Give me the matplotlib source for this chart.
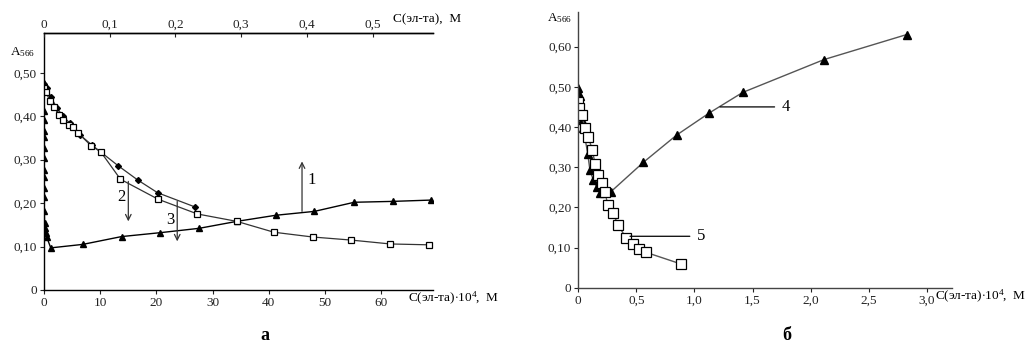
import matplotlib.pyplot as plt
from matplotlib.ticker import FixedLocator, FuncFormatter

plt.rcParams['font.family'] = ['Liberation Serif', 'DejaVu Serif']
plt.rcParams['mathtext.fontset'] = 'custom'
plt.rcParams['mathtext.rm'] = 'Liberation Serif'
plt.rcParams['mathtext.it'] = 'Liberation Serif:italic'

# panel a: series 1 (triangles)
s1_x = [0, 0, 0, 0, 0, 0, 0, 0, 0, 0, 0, 0, 0.05, 0.1, 0.2, 0.3, 0.45,
        1.2, 6.9, 13.8, 20.7, 27.6, 34.3, 41.2, 48.1, 55.2, 62.0, 68.8]
s1_y = [0.476, 0.47, 0.411, 0.392, 0.365, 0.353, 0.326, 0.303, 0.276, 0.261, 0.234, 0.215,
        0.181, 0.154, 0.142, 0.131, 0.123,
        0.097, 0.105, 0.123, 0.132, 0.142, 0.158, 0.172, 0.181, 0.202, 0.204, 0.207]

# panel a: series 2 (diamonds)
s2_x = [0, 0.5, 1.2, 2.3, 3.4, 4.6, 6.4, 8.5, 13.2, 16.7, 20.2, 26.9]
s2_y = [0.475, 0.465, 0.445, 0.419, 0.40, 0.384, 0.357, 0.334, 0.286, 0.253, 0.224, 0.191]

# panel a: series 3 (open squares)
s3_x = [0, 0.4, 1.07, 1.8, 2.7, 3.4, 4.5, 5.2, 6.1, 8.4, 10.1, 13.6, 20.3, 27.3,
        34.3, 40.9, 47.8, 54.6, 61.6, 68.5]
s3_y = [0.465, 0.455, 0.434, 0.421, 0.403, 0.392, 0.380, 0.375, 0.361, 0.332, 0.318,
        0.255, 0.209, 0.175, 0.158, 0.133, 0.122, 0.115, 0.106, 0.104]

# panel b: series 4 (triangles)
s4_x = [0, 0.0, 0.015, 0.029, 0.043, 0.081, 0.1, 0.129, 0.158, 0.187, 0.281,
        0.56, 0.847, 1.128, 1.415, 2.117, 2.826]
s4_y = [0.496, 0.484, 0.476, 0.417, 0.397, 0.334, 0.293, 0.268, 0.251, 0.235, 0.239,
        0.312, 0.380, 0.435, 0.486, 0.568, 0.630]

# panel b: series 5 (open squares)
s5_x = [0.0, 0.006, 0.029, 0.058, 0.086, 0.12, 0.144, 0.172, 0.207, 0.23, 0.253,
        0.296, 0.344, 0.41, 0.468, 0.522, 0.583, 0.884]
s5_y = [0.463, 0.448, 0.43, 0.397, 0.376, 0.343, 0.309, 0.280, 0.26, 0.237, 0.207,
        0.187, 0.156, 0.124, 0.108, 0.096, 0.088, 0.059]

W, H = 1033, 345
fig = plt.figure(figsize=(W / 100, H / 100), dpi=100)


def rect(x0, y0, x1, y1):
    return [x0 / W, 1 - y1 / H, (x1 - x0) / W, (y1 - y0) / H]


def comma_fmt(nd):
    return FuncFormatter(lambda v, p: '0' if abs(v) < 1e-9 else ('%.*f' % (nd, v)).replace('.', ','))


tick_kw = dict(direction='out', length=3, width=0.8, labelsize=9.5, colors='#222222', pad=2)

# ---------- panel a ----------
ax = fig.add_axes(rect(44, 33.3, 433, 290))
ax.plot(s1_x, s1_y, color='black', lw=1.0, marker='^', ms=5, mfc='black', mec='black')
ax.plot(s2_x, s2_y, color='#333333', lw=0.9, marker='D', ms=3, mfc='black', mec='black')
ax.plot(s3_x, s3_y, color='#333333', lw=0.9, marker='s', ms=4.8, mfc='white',
        mec='black', mew=0.9)
ax.set_xlim(0, 69.2)
ax.set_ylim(0, 0.591)
ax.spines['right'].set_visible(False)
for s in ['left', 'bottom', 'top']:
    ax.spines[s].set_linewidth(1.0)
ax.xaxis.set_major_locator(FixedLocator([0, 10, 20, 30, 40, 50, 60]))
ax.yaxis.set_major_locator(FixedLocator([0, 0.1, 0.2, 0.3, 0.4, 0.5]))
ax.xaxis.set_major_formatter(FuncFormatter(lambda v, p: '%d' % v))
ax.yaxis.set_major_formatter(comma_fmt(2))
ax.tick_params(**tick_kw)

top = ax.twiny()
top.set_xlim(0, 0.592)
for s in ['right', 'left', 'bottom']:
    top.spines[s].set_visible(False)
top.spines['top'].set_linewidth(1.0)
top.xaxis.set_major_locator(FixedLocator([0, 0.1, 0.2, 0.3, 0.4, 0.5]))
top.xaxis.set_major_formatter(comma_fmt(1))
top.tick_params(axis='x', direction='in', length=3, width=0.8, labelsize=9.5,
                colors='#222222', pad=2)

fig.text(10 / W, 1 - 52 / H, r'A$_{\mathrm{566}}$', fontsize=9.5, va='center', ha='left')
fig.text(393 / W, 1 - 19 / H, 'С(эл-та),  М', fontsize=9.5, va='center', ha='left')
fig.text(408 / W, 1 - 298 / H, r'С(эл-та)$\cdot$10$^{\mathrm{4}}$,  М', fontsize=9.5,
         va='center', ha='left')

arrow = dict(arrowstyle='->', color='#333333', lw=0.9, shrinkA=0, shrinkB=0)
ax.annotate('', xy=(45.9, 0.296), xytext=(45.9, 0.181), arrowprops=arrow)
ax.annotate('', xy=(15.0, 0.158), xytext=(15.0, 0.25), arrowprops=arrow)
ax.annotate('', xy=(23.7, 0.112), xytext=(23.7, 0.204), arrowprops=arrow)
ax.text(46.9, 0.253, '1', fontsize=12, va='center', ha='left')
ax.text(13.7, 0.215, '2', fontsize=12, va='center', ha='center')
ax.text(22.4, 0.162, '3', fontsize=12, va='center', ha='center')

fig.text(265 / W, 1 - 335 / H, 'а', fontsize=13, fontweight='bold', ha='center', va='center')

# ---------- panel b ----------
bx = fig.add_axes(rect(578.3, 11.7, 952.3, 287.7))
bx.plot(s4_x, s4_y, color='#555555', lw=1.0, marker='^', ms=6, mfc='black', mec='black')
bx.plot(s5_x, s5_y, color='#555555', lw=1.0, marker='s', ms=6.5, mfc='white',
        mec='black', mew=0.9)
bx.set_xlim(0, 3.22)
bx.set_ylim(0, 0.687)
for s in ['right', 'top']:
    bx.spines[s].set_visible(False)
for s in ['left', 'bottom']:
    bx.spines[s].set_linewidth(1.0)
    bx.spines[s].set_color('#444444')
bx.xaxis.set_major_locator(FixedLocator([0, 0.5, 1.0, 1.5, 2.0, 2.5, 3.0]))
bx.yaxis.set_major_locator(FixedLocator([0, 0.1, 0.2, 0.3, 0.4, 0.5, 0.6]))
bx.xaxis.set_major_formatter(comma_fmt(1))
bx.yaxis.set_major_formatter(comma_fmt(2))
bx.tick_params(**tick_kw)

fig.text(547 / W, 1 - 18 / H, r'A$_{\mathrm{566}}$', fontsize=9.5, va='center', ha='left')
fig.text(935 / W, 1 - 296 / H, r'С(эл-та)$\cdot$10$^{\mathrm{4}}$,  М', fontsize=9.5,
         va='center', ha='left')

line = dict(arrowstyle='-', color='black', lw=0.9, shrinkA=0, shrinkB=0)
bx.annotate('', xy=(1.22, 0.450), xytext=(1.69, 0.450), arrowprops=line)
bx.text(1.75, 0.450, '4', fontsize=12, va='center', ha='left')
bx.annotate('', xy=(0.445, 0.128), xytext=(0.96, 0.128), arrowprops=line)
bx.text(1.02, 0.128, '5', fontsize=12, va='center', ha='left')

fig.text(787 / W, 1 - 335 / H, 'б', fontsize=13, fontweight='bold', ha='center', va='center')

fig.savefig('out.png', dpi=100)
